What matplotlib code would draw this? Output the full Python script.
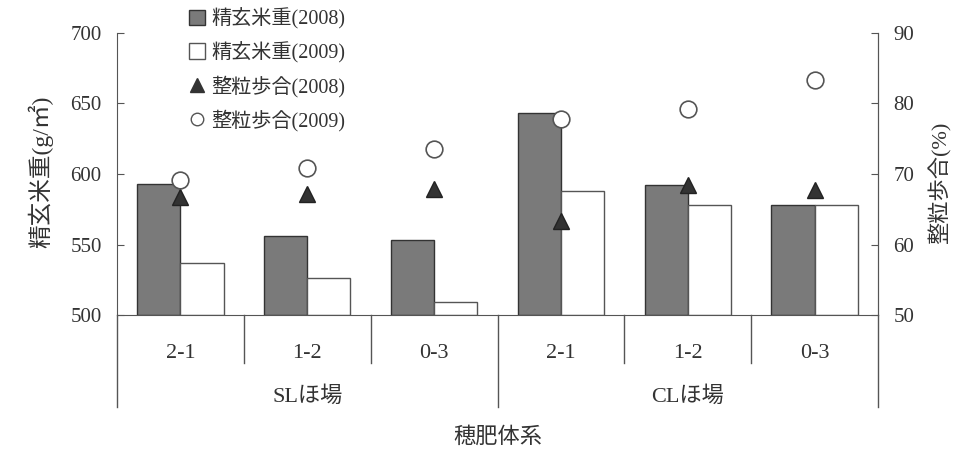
import numpy as np
import matplotlib.pyplot as plt
from matplotlib.lines import Line2D
from matplotlib.patches import Patch
from matplotlib.transforms import blended_transform_factory

fonts = ['Liberation Serif', 'Noto Sans CJK JP']
plt.rcParams['font.family'] = fonts

groups = ['2-1', '1-2', '0-3', '2-1', '1-2', '0-3']
fields = ['SLほ場', 'CLほ場']
weight_2008 = [593, 556, 553, 643, 592, 578]
weight_2009 = [537, 526, 509, 588, 578, 578]
ratio_2008 = [66.8, 67.2, 67.9, 63.4, 68.5, 67.8]
ratio_2009 = [69.1, 70.9, 73.5, 77.8, 79.2, 83.4]

fig = plt.figure(figsize=(9.55, 4.53), dpi=100)
ax = fig.add_axes([0.1225, 0.3046, 0.7969, 0.6226])
ax2 = ax.twinx()

x = np.arange(len(groups))
w = 0.34
ax.bar(x - w / 2, np.array(weight_2008) - 500, w, bottom=500,
       color='#7a7a7a', edgecolor='#333333', linewidth=1.0)
ax.bar(x + w / 2, np.array(weight_2009) - 500, w, bottom=500,
       color='white', edgecolor='#555555', linewidth=1.0)
ax.set_ylim(500, 700)
ax.set_yticks([500, 550, 600, 650, 700])
ax.set_xlim(-0.5, 5.5)
ax.set_xticks([])

ax2.plot(x, ratio_2008, linestyle='none', marker='^', markersize=12,
         color='#333333', markeredgecolor='#222222')
ax2.plot(x, ratio_2009, linestyle='none', marker='o', markersize=12,
         markerfacecolor='white', markeredgecolor='#555555', markeredgewidth=1.2)
ax2.set_ylim(50, 90)
ax2.set_yticks([50, 60, 70, 80, 90])

for a in (ax, ax2):
    a.spines['top'].set_visible(False)
    for s in a.spines.values():
        s.set_color('#555555')
    a.tick_params(direction='in', length=5, color='#555555',
                  labelsize=15, labelcolor='#333333', pad=11)
ax2.spines['left'].set_visible(False)
ax2.spines['bottom'].set_visible(False)

# category area below the axis
tr = blended_transform_factory(ax.transData, ax.transAxes)
for xv in [0.5, 1.5, 3.5, 4.5]:
    ax.plot([xv, xv], [0, -0.17], color='#555555', lw=1, transform=tr, clip_on=False)
for xv in [-0.5, 2.5, 5.5]:
    ax.plot([xv, xv], [0, -0.326], color='#555555', lw=1, transform=tr, clip_on=False)
for xi, g in zip(x, groups):
    ax.text(xi, -0.135, g, transform=tr, ha='center', va='center',
            fontsize=16, color='#333333')
for xi, f in zip([1, 4], fields):
    ax.text(xi, -0.29, f, transform=tr, ha='center', va='center',
            fontsize=16, color='#333333')
ax.text(2.5, -0.433, '穂肥体系', transform=tr, ha='center', va='center',
        fontsize=16, color='#333333')

fig.text(0.042, 0.62, '精玄米重(g/㎡)', rotation=90, ha='center', va='center',
         fontsize=17, color='#333333')
fig.text(0.984, 0.596, '整粒歩合(%)', rotation=90, ha='center', va='center',
         fontsize=16, color='#333333')

handles = [
    Patch(facecolor='#7a7a7a', edgecolor='#333333'),
    Patch(facecolor='white', edgecolor='#555555'),
    Line2D([], [], linestyle='none', marker='^', markersize=10,
           color='#333333'),
    Line2D([], [], linestyle='none', marker='o', markersize=9,
           markerfacecolor='white', markeredgecolor='#555555'),
]
labels = ['精玄米重(2008)', '精玄米重(2009)', '整粒歩合(2008)', '整粒歩合(2009)']
fig.legend(handles, labels, loc='upper left', bbox_to_anchor=(0.179, 1.022),
           frameon=False, fontsize=14.5, handlelength=0.8, handleheight=0.8,
           handletextpad=0.3, labelspacing=0.6, labelcolor='#333333')

fig.savefig('out.png', dpi=100)
